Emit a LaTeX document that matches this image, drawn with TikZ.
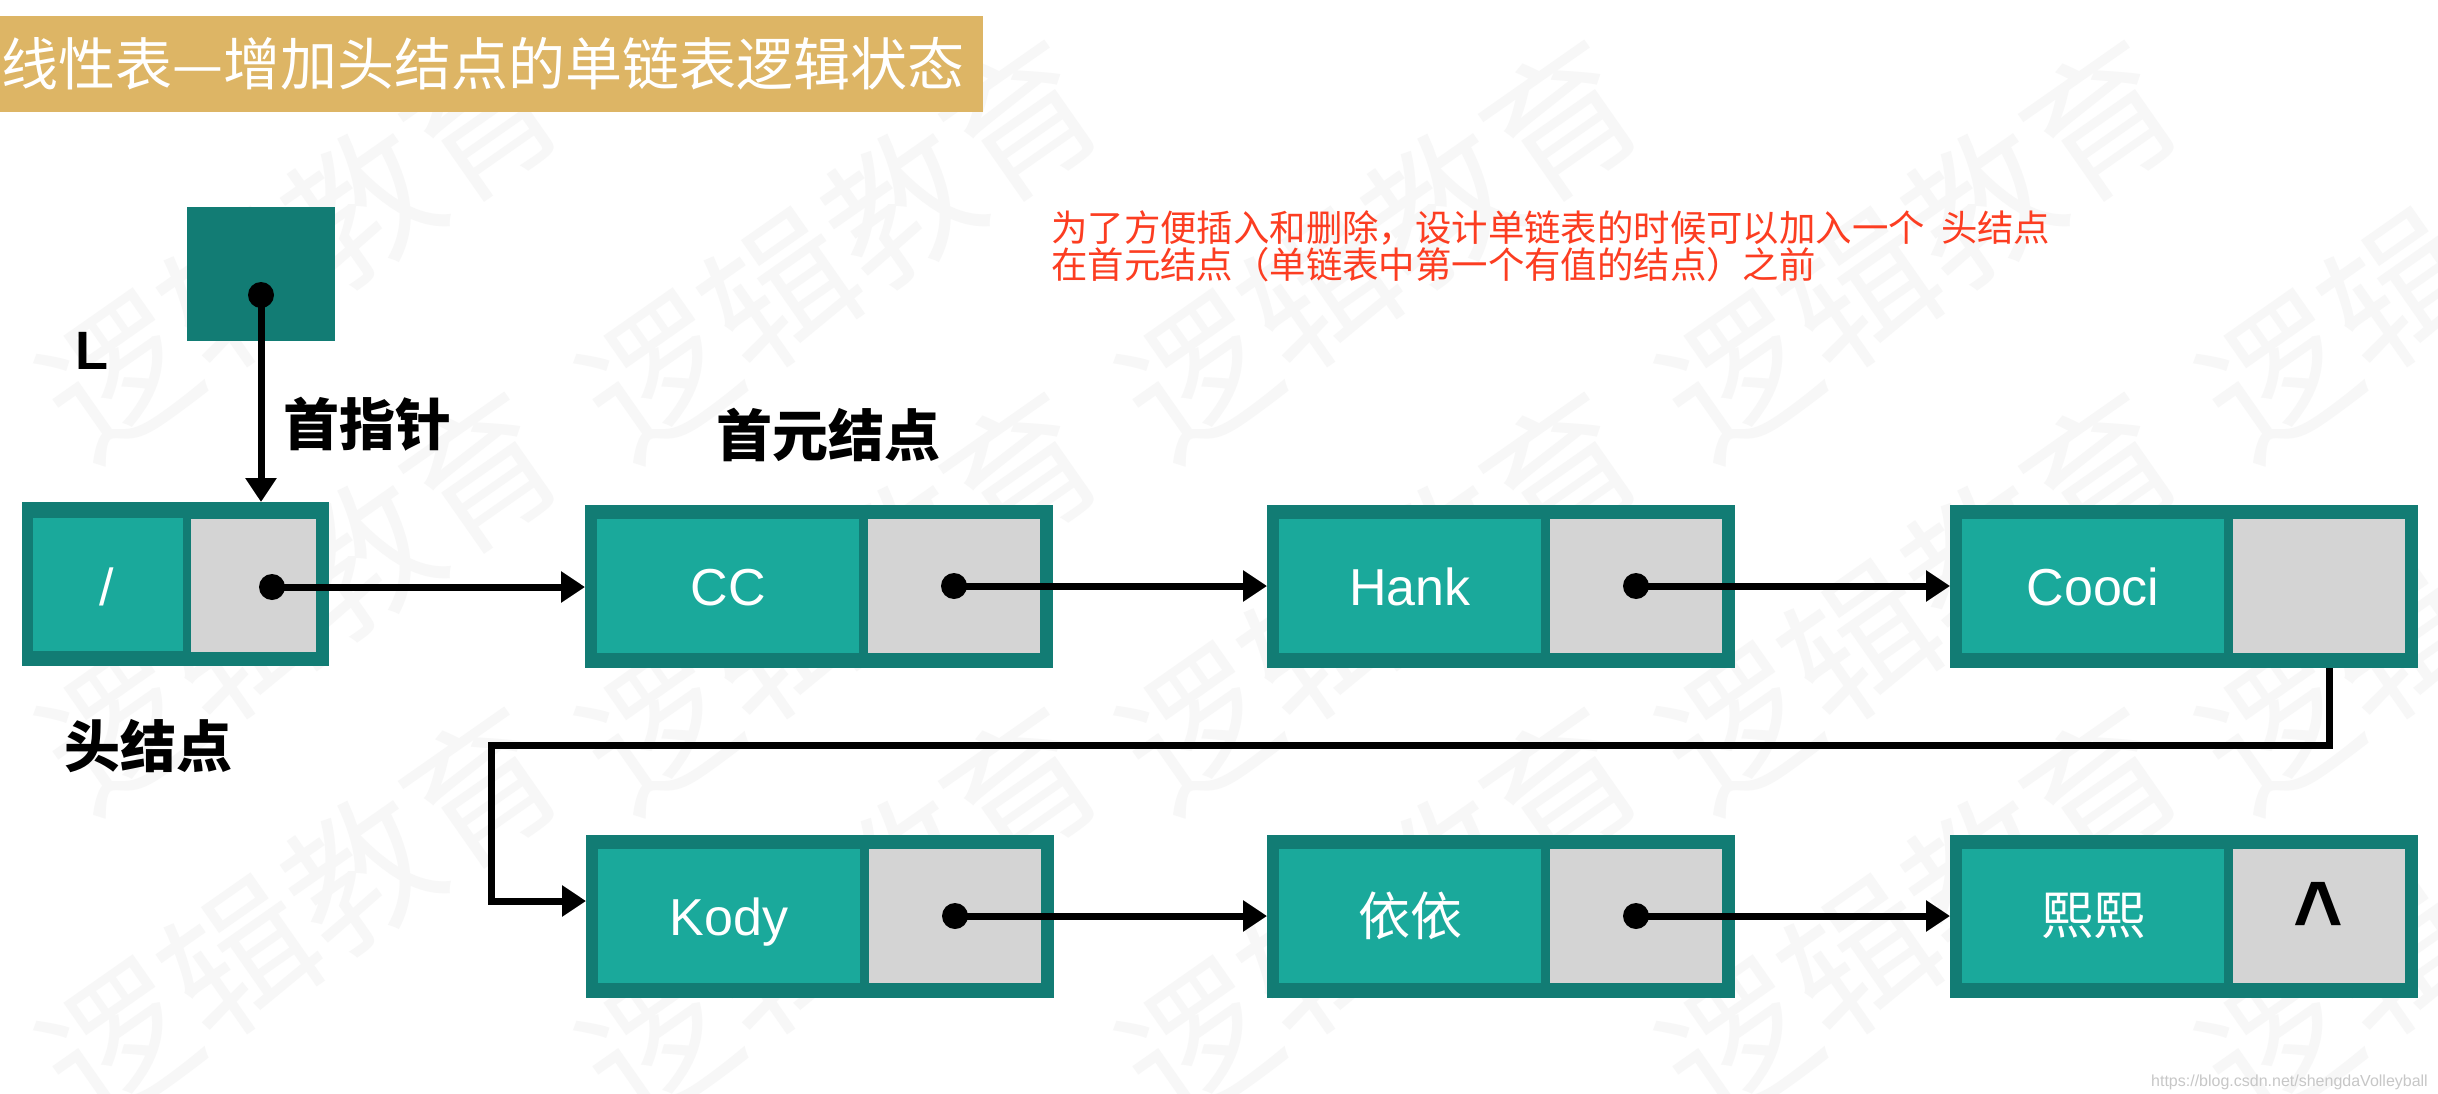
\documentclass[tikz,border=0pt]{standalone}
\usepackage{fontspec}
\setmainfont{Liberation Sans}
\newfontfamily\cjk{Noto Sans CJK SC}
\usetikzlibrary{arrows.meta}
\definecolor{tealdark}{RGB}{18,124,116}
\definecolor{tealcell}{RGB}{26,169,155}
\definecolor{ptrgray}{RGB}{212,212,212}
\definecolor{bannercol}{RGB}{221,181,101}
\definecolor{notered}{RGB}{252,61,33}
\definecolor{wmark}{RGB}{247,247,247}
\tikzset{
  box/.style={draw=none, inner sep=0pt, outer sep=0pt, anchor=north west},
  outerbox/.style={box, fill=tealdark, minimum width=468pt, minimum height=163pt},
  datacell/.style={box, fill=tealcell, minimum width=262pt, minimum height=134pt},
  ptrcell/.style={box, fill=ptrgray, minimum width=172pt, minimum height=134pt},
  dot/.style={circle, fill=black, minimum size=26pt, inner sep=0pt},
  link/.style={line width=7pt, draw=black, -{Triangle[length=24pt,width=30pt]}},
  celltext/.style={text=white, inner sep=0pt, font=\fontsize{52}{52}\selectfont, anchor=base},
  cjkcell/.style={text=white, inner sep=0pt, font=\cjk\fontsize{52}{52}\selectfont},
  label/.style={text=black, inner sep=0pt, font=\cjk\bfseries\fontsize{56}{56}\selectfont},
  note/.style={text=notered, inner sep=0pt, anchor=west, font=\cjk\fontsize{36.4}{36.4}\selectfont},
  wm/.style={text=wmark, inner sep=0pt, rotate=35, font=\cjk\fontsize{148}{148}\selectfont}
}
\newcommand\llnode[3]{%
  \node[outerbox] (#1) at (#2,#3) {};
  \node[datacell] (#1-d) at (#2+12,#3+14) {};
  \node[ptrcell] (#1-p) at (#2+283,#3+14) {};
}
\begin{document}
\begin{tikzpicture}[x=1pt,y=-1pt]
\useasboundingbox (0,0) rectangle (2438,1094);
\fill[white] (0,0) rectangle (2438,1094);
% watermark
\foreach \c/\px in {1/300, 2/840, 3/1380, 4/1920, 5/2460}{
  \foreach \r/\py in {1/248, 2/600, 3/915}{
    \node[wm] (wm\c-\r) at (\px,\py) {逻辑教育};
  }
}
% title
\node[box, fill=bannercol, minimum width=983pt, minimum height=96pt] (banner) at (0,16) {};
\node[text=white, inner sep=0pt, anchor=west, font=\cjk\fontsize{57}{57}\selectfont] (title) at (1,64) {线性表—增加头结点的单链表逻辑状态};
% note
\node[note] (note1) at (1051,228) {为了方便插入和删除，设计单链表的时候可以加入一个\ \ 头结点};
\node[note] (note2) at (1051,265) {在首元结点（单链表中第一个有值的结点）之前};
% L pointer
\node[box, fill=tealdark, minimum width=148pt, minimum height=134pt] (L) at (187,207) {};
\node[dot] (L-dot) at (261,295) {};
\node[inner sep=0pt, font=\bfseries\fontsize{54}{54}\selectfont, anchor=base] (Lname) at (92,369) {L};
\node[label] (firstptr) at (367,424) {首指针};
% head node
\node[box, fill=tealdark, minimum width=307pt, minimum height=164pt] (head) at (22,502) {};
\node[box, fill=tealcell, minimum width=150pt, minimum height=133pt] (head-d) at (33,518) {};
\node[box, fill=ptrgray, minimum width=125pt, minimum height=133pt] (head-p) at (191,519) {};
\node[celltext] (head-t) at (107,605) {/};
\node[dot] (head-dot) at (272,587) {};
\node[label] (headlbl) at (148,746) {头结点};
\node[label] (firstlbl) at (828,435) {首元结点};
% list nodes
\llnode{cc}{585}{505}
\llnode{hank}{1267}{505}
\llnode{cooci}{1950}{505}
\llnode{kody}{586}{835}
\llnode{yiyi}{1267}{835}
\llnode{xixi}{1950}{835}
\node[celltext] (cc-t) at ([yshift=-19pt]cc-d.center) {CC};
\node[celltext] (hank-t) at ([yshift=-19pt]hank-d.center) {Hank};
\node[celltext] (cooci-t) at ([yshift=-19pt]cooci-d.center) {Cooci};
\node[celltext] (kody-t) at ([yshift=-19pt]kody-d.center) {Kody};
\node[cjkcell] (yiyi-t) at (yiyi-d.center) {依依};
\node[cjkcell] (xixi-t) at (xixi-d.center) {熙熙};
\node[inner sep=0pt, anchor=base] (xixi-null) at (2318,950)
  {\scalebox{0.86}[1]{\fontsize{99}{99}\selectfont\bfseries\textasciicircum}};
\node[dot] (cc-dot) at (cc-p.center) {};
\node[dot] (hank-dot) at (hank-p.center) {};
\node[dot] (kody-dot) at (kody-p.center) {};
\node[dot] (yiyi-dot) at (yiyi-p.center) {};
% connectors
\draw[link] (L-dot.center) -- (L-dot.center |- head.north);
\draw[link] (head-dot.center) -- (head-dot.center -| cc.west);
\draw[link] (cc-dot.center) -- (cc-dot.center -| hank.west);
\draw[link] (hank-dot.center) -- (hank-dot.center -| cooci.west);
\coordinate (bendR) at (2329,745);
\coordinate (bendL) at (491,745);
\coordinate (kodyin) at (kody.west |- 0,901);
\draw[link] (cooci.south -| bendR) -- (bendR) -- (bendL) -- (bendL |- kodyin) -- (kodyin);
\draw[link] (kody-dot.center) -- (kody-dot.center -| yiyi.west);
\draw[link] (yiyi-dot.center) -- (yiyi-dot.center -| xixi.west);
% url
\node[anchor=base east, inner sep=0pt, text=black!22, font=\fontsize{16}{16}\selectfont] (url) at (2428,1086) {https://blog.csdn.net/shengdaVolleyball};
\end{tikzpicture}
\end{document}
